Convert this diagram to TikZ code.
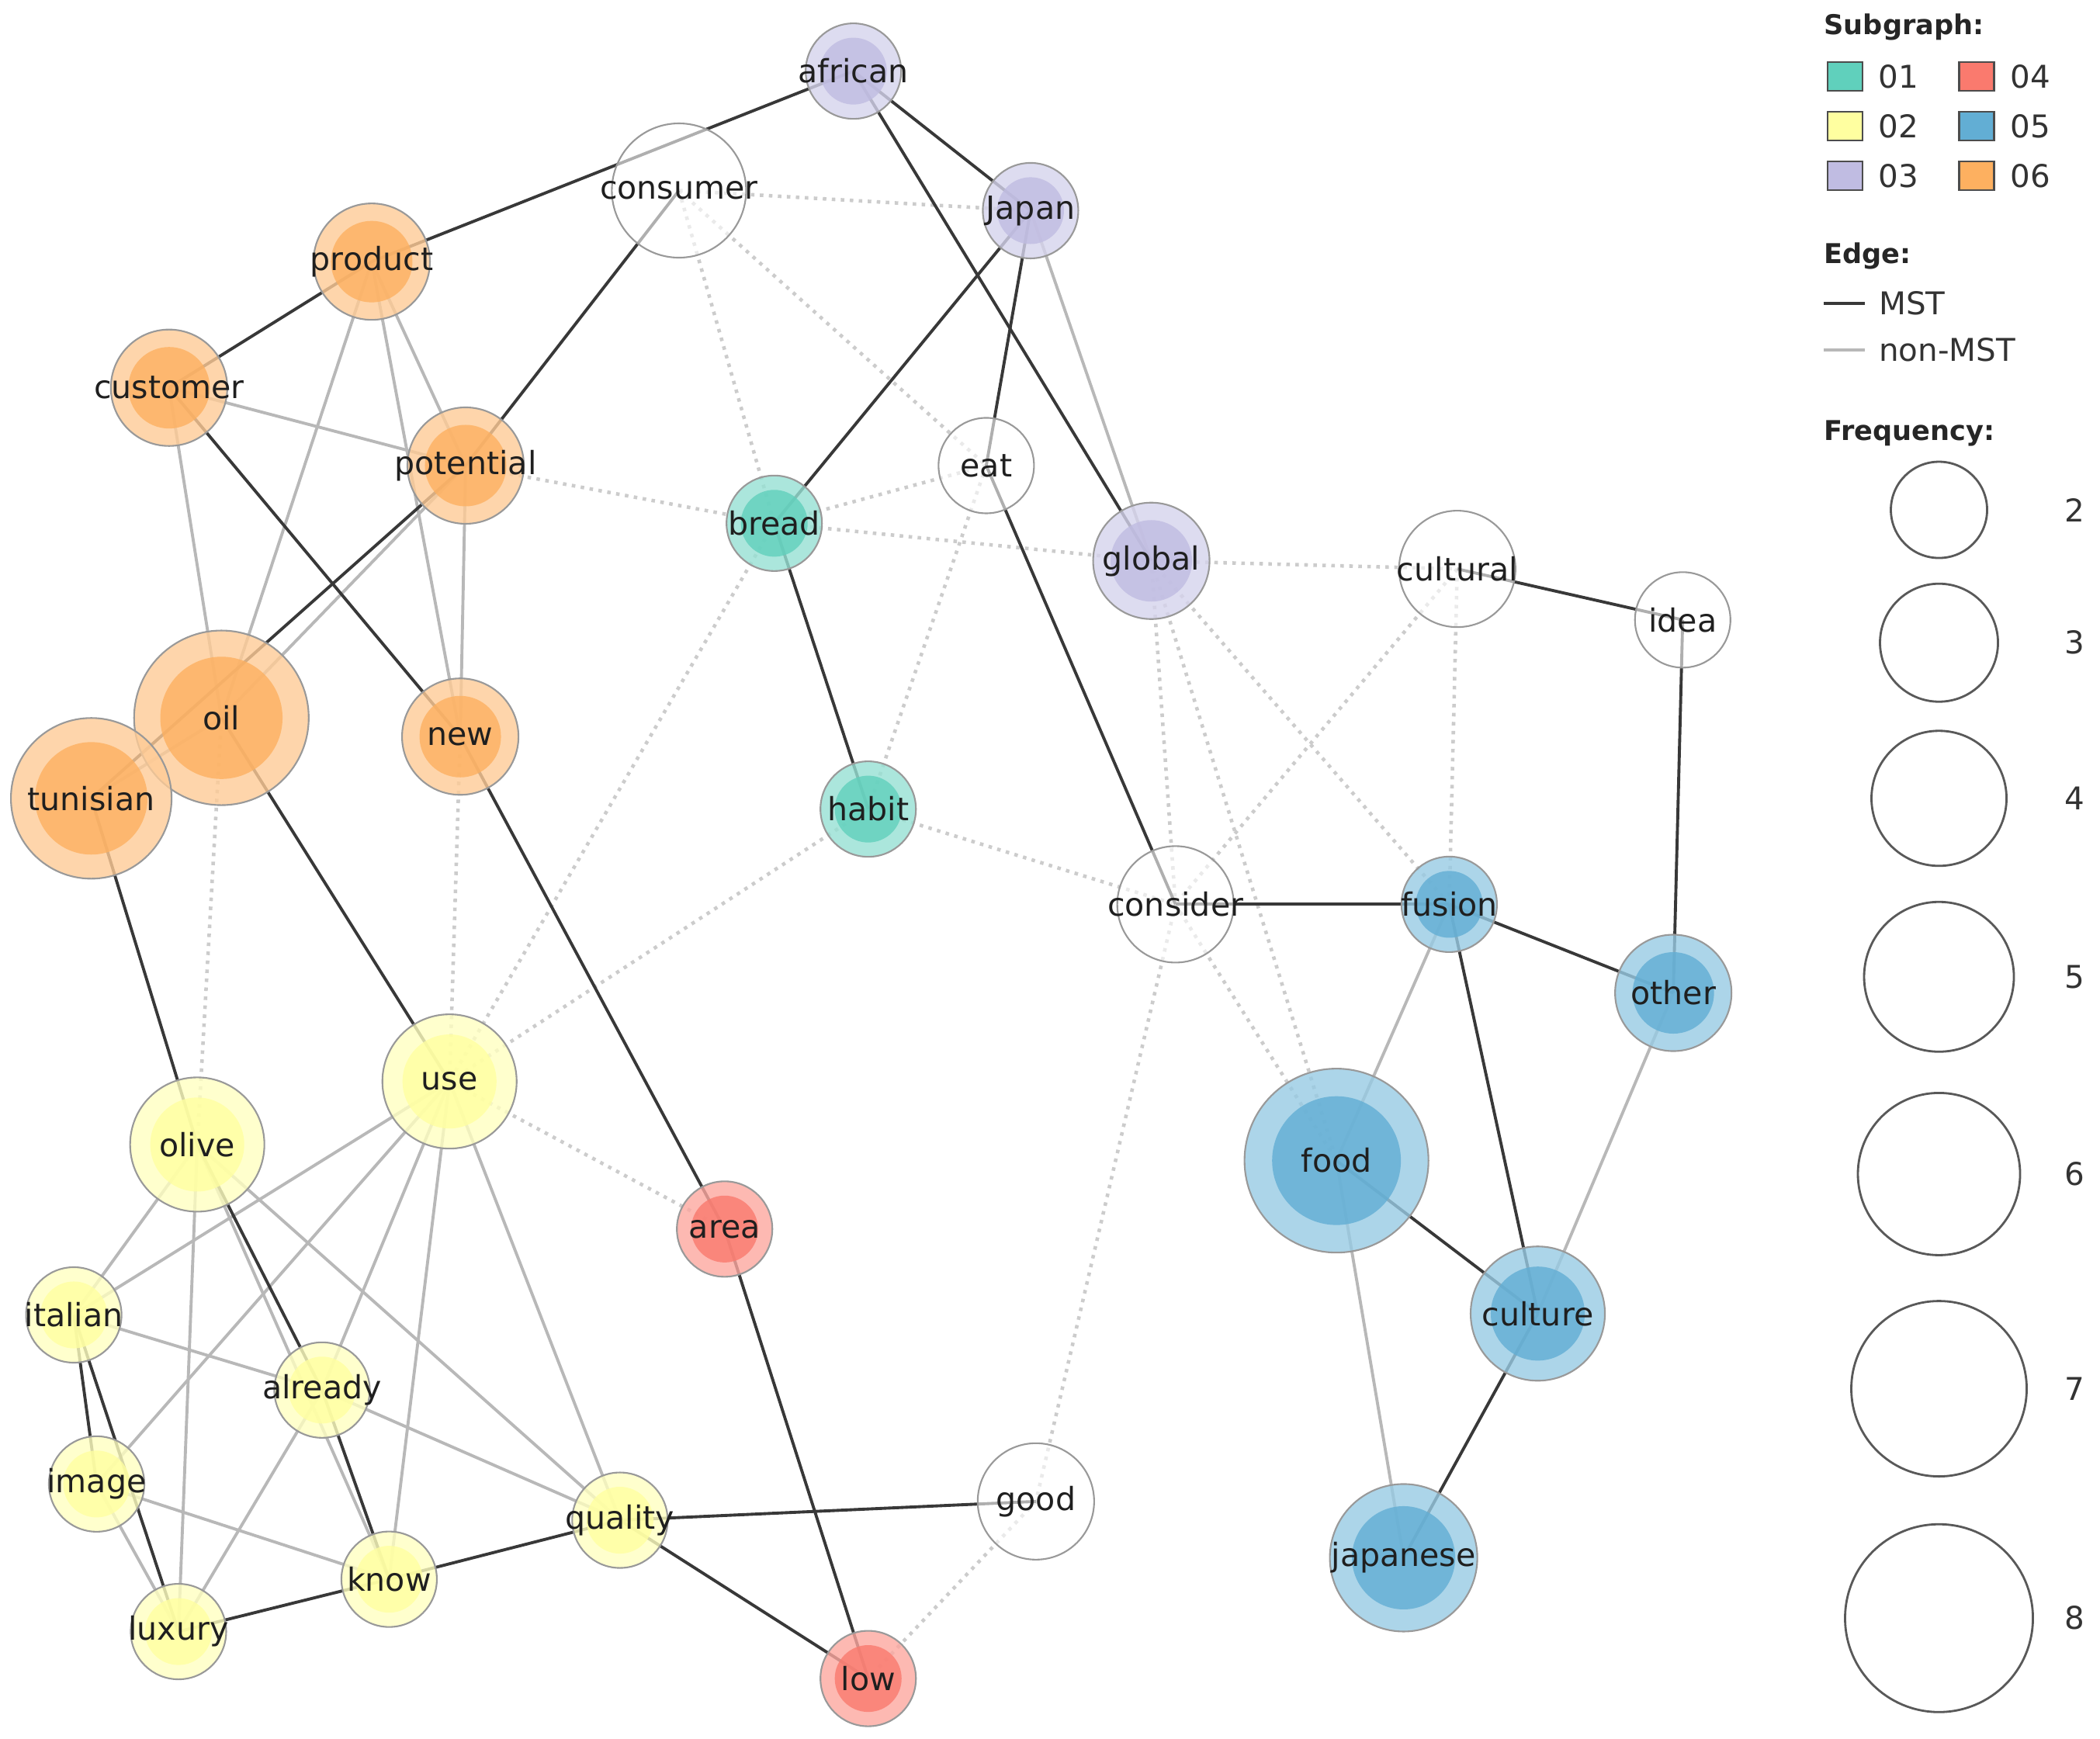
\documentclass[tikz,border=0pt]{standalone}
\usepackage{fontspec}
\setmainfont{DejaVu Sans}
\usetikzlibrary{calc}

\pgfdeclarelayer{bg}
\pgfsetlayers{bg,main}

\definecolor{g1}{RGB}{96,208,188}
\definecolor{g2}{RGB}{255,255,160}
\definecolor{g3}{RGB}{192,188,226}
\definecolor{g4}{RGB}{250,122,110}
\definecolor{g5}{RGB}{98,174,212}
\definecolor{g6}{RGB}{253,176,96}

\newcommand{\wordfont}{\fontsize{11.7}{14}\selectfont}
\newcommand{\legfont}{\fontsize{11.5}{14}\selectfont}
\newcommand{\headfont}{\fontsize{10}{12}\selectfont\bfseries}

\tikzset{
    % the word may run past the circle, as in the original
    wordbox/.style={inner sep=0pt, font=\wordfont, text=black!88, text opacity=1,
        execute at begin node={\hbox to 0pt\bgroup\hss},
        execute at end node={\hss\egroup}},
    word/.style={circle, draw=black!40, line width=0.6pt, fill=g#1!66!white,
        fill opacity=0.8, wordbox,
        path picture={\fill[g#1] let \p1=(path picture bounding box.east),
            \p2=(path picture bounding box.center) in (\p2) circle[radius=0.7*\x1-0.7*\x2];}},
    plain/.style={circle, draw=black!40, line width=0.6pt, fill=white, fill opacity=0.6, wordbox},
    f2/.style={minimum size=1.23cm},
    f3/.style={minimum size=1.50cm},
    f4/.style={minimum size=1.73cm},
    f5/.style={minimum size=1.90cm},
    f6/.style={minimum size=2.07cm},
    f7/.style={minimum size=2.25cm},
    f8/.style={minimum size=2.37cm},
    mst/.style={draw=black!78, line width=1.1pt},
    nonmst/.style={draw=black!28, line width=1.1pt},
    weak/.style={draw=black!20, line width=1.3pt, dotted},
    swatch/.style={draw=black!70, line width=0.7pt, minimum width=0.45cm, minimum height=0.37cm, inner sep=0pt},
    legtext/.style={anchor=west, font=\legfont, text=black!80, inner sep=0pt},
    leghead/.style={anchor=west, font=\headfont, text=black!85, inner sep=0pt},
    freq/.style={circle, draw=black!65, line width=0.8pt, inner sep=0pt},
}

\begin{document}
\begin{tikzpicture}[x=0.01729cm, y=-0.01729cm]
    \useasboundingbox (0,0) rectangle (1565,1295.5);

    % subgraph 03
    \node[word=3, f2] (african) at (636,53) {african};
    \node[word=3, f2] (japan) at (768,157) {Japan};
    \node[word=3, f3] (global) at (858,418) {global};
    % subgraph 06
    \node[word=6, f3] (product) at (277,195) {product};
    \node[word=6, f3] (customer) at (126,289) {customer};
    \node[word=6, f3] (potential) at (347,347) {potential};
    \node[word=6, f7] (oil) at (165,535) {oil};
    \node[word=6, f3] (new) at (343,549) {new};
    \node[word=6, f6] (tunisian) at (68,595) {tunisian};
    % subgraph 01
    \node[word=1, f2] (bread) at (577,390) {bread};
    \node[word=1, f2] (habit) at (647,603) {habit};
    % subgraph 05
    \node[word=5, f2] (fusion) at (1080,674) {fusion};
    \node[word=5, f3] (other) at (1247,740) {other};
    \node[word=5, f8] (food) at (996,865) {food};
    \node[word=5, f4] (culture) at (1146,979) {culture};
    \node[word=5, f5] (japanese) at (1046,1161) {japanese};
    % subgraph 02
    \node[word=2, f4] (use) at (335,806) {use};
    \node[word=2, f4] (olive) at (147,853) {olive};
    \node[word=2, f2] (italian) at (55,980) {italian};
    \node[word=2, f2] (already) at (240,1036) {already};
    \node[word=2, f2] (image) at (72,1106) {image};
    \node[word=2, f2] (quality) at (462,1133) {quality};
    \node[word=2, f2] (know) at (290,1177) {know};
    \node[word=2, f2] (luxury) at (133,1216) {luxury};
    % subgraph 04
    \node[word=4, f2] (area) at (540,916) {area};
    \node[word=4, f2] (low) at (647,1251) {low};
    % no subgraph
    \node[plain, f4] (consumer) at (506,142) {consumer};
    \node[plain, f2] (eat) at (735,347) {eat};
    \node[plain, f3] (cultural) at (1086,424) {cultural};
    \node[plain, f2] (idea) at (1254,462) {idea};
    \node[plain, f3] (consider) at (876,674) {consider};
    \node[plain, f3] (good) at (772,1119) {good};

    \begin{pgfonlayer}{bg}
        \foreach \a/\b in {consumer/japan, consumer/bread, consumer/eat, potential/bread,
                bread/eat, bread/global, global/cultural, eat/habit, bread/use, habit/use,
                habit/consider, use/area, new/use, oil/olive, consider/good, cultural/consider,
                global/consider, global/food, global/fusion, consider/food, cultural/fusion, good/low}
            \draw[weak] (\a.center) -- (\b.center);
        \foreach \a/\b in {product/oil, product/potential, product/new, customer/potential,
                customer/oil, potential/new, potential/oil, oil/tunisian, japan/global,
                fusion/food, other/culture, food/japanese, olive/italian, olive/luxury,
                olive/quality, olive/know, use/italian, use/image, use/already, use/know,
                use/quality, luxury/already, italian/already, already/quality, image/know,
                image/luxury}
            \draw[nonmst] (\a.center) -- (\b.center);
        \foreach \a/\b in {product/african, product/customer, customer/new, potential/consumer,
                potential/tunisian, tunisian/olive, oil/use, new/area, area/low, quality/low,
                quality/good, quality/know, know/luxury, olive/already, already/know,
                italian/image, italian/luxury, japan/african, african/global, japan/bread,
                japan/eat, bread/habit, eat/consider, consider/fusion, cultural/idea,
                idea/other, fusion/other, fusion/culture, food/culture, culture/japanese}
            \draw[mst] (\a.center) -- (\b.center);
    \end{pgfonlayer}

    % legend
    \node[leghead] (subgraph) at (1359,20) {Subgraph:};
    \foreach \n/\c/\x/\y in {01/g1/1375/57, 02/g2/1375/94, 03/g3/1375/131,
            04/g4/1473/57, 05/g5/1473/94, 06/g6/1473/131}
        \node[swatch, fill=\c] (sw\n) at (\x,\y) {};
    \foreach \n in {01,02,03,04,05,06}
        \node[legtext] at ([xshift=0.19cm]sw\n.east) {\n};

    \node[leghead] (edge) at (1359,191) {Edge:};
    \coordinate (mstA) at (1359,226);
    \coordinate (mstB) at (1390,226);
    \coordinate (nonA) at (1359,261);
    \coordinate (nonB) at (1390,261);
    \draw[mst] (mstA) -- (mstB);
    \draw[nonmst] (nonA) -- (nonB);
    \node[legtext] at ([xshift=0.17cm]mstB) {MST};
    \node[legtext] at ([xshift=0.17cm]nonB) {non-MST};

    \node[leghead] (frequency) at (1359,323) {Frequency:};
    \foreach \k/\y/\s in {2/380/1.24, 3/479/1.52, 4/595/1.74, 5/728/1.93, 6/875/2.09, 7/1035/2.26, 8/1206/2.42}
        \node[freq, minimum size=\s cm] (fq\k) at (1445,\y) {};
    \foreach \k in {2,...,8}
        \node[font=\legfont, text=black!80] at ([xshift=1.75cm]fq\k.center) {\k};
\end{tikzpicture}
\end{document}
